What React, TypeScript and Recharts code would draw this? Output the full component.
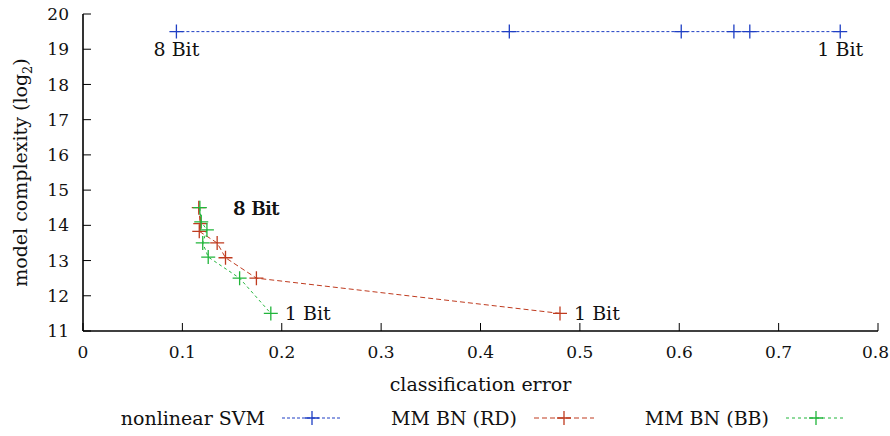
import React from "react";
import {
  ComposedChart,
  Scatter,
  XAxis,
  YAxis,
  Legend,
} from "recharts";

const xTicks = [0, 0.1, 0.2, 0.3, 0.4, 0.5, 0.6, 0.7, 0.8];
const yTicks = [11, 12, 13, 14, 15, 16, 17, 18, 19, 20];

const svmError = [0.094, 0.429, 0.602, 0.655, 0.671, 0.762];
const svmComplexity = [19.5, 19.5, 19.5, 19.5, 19.5, 19.5];
const svmTags = ["8 Bit", "", "", "", "", "1 Bit"];

const rdError = [0.1165, 0.118, 0.117, 0.135, 0.1434, 0.1745, 0.48];
const rdComplexity = [14.5, 14.05, 13.83, 13.5, 13.08, 12.5, 11.5];
const rdTags = ["8 Bit", "", "", "", "", "", "1 Bit"];

const bbError = [0.1176, 0.119, 0.1247, 0.1205, 0.126, 0.1576, 0.189];
const bbComplexity = [14.5, 14.1, 13.87, 13.5, 13.1, 12.5, 11.5];
const bbTags = ["8 Bit", "", "", "", "", "", "1 Bit"];

const FONT = "'DejaVu Serif', serif";
const TICK_LEN = 8;

type Pt = { err: number; cx: number; tag: string };

const zip = (xs: number[], ys: number[], tags: string[]): Pt[] =>
  xs.map((x, i) => ({ err: x, cx: ys[i], tag: tags[i] }));

const SERIES = [
  { name: "nonlinear SVM", color: "#1f3fc4", dash: "3 2", data: zip(svmError, svmComplexity, svmTags), labelPos: "below" },
  { name: "MM BN (RD)", color: "#bf3b1f", dash: "5 3", data: zip(rdError, rdComplexity, rdTags), labelPos: "right" },
  { name: "MM BN (BB)", color: "#21b53b", dash: "3 3", data: zip(bbError, bbComplexity, bbTags), labelPos: "right" },
];

function crossPath(cx: number, cy: number, r: number) {
  return `M${cx - r},${cy}H${cx + r}M${cx},${cy - r}V${cy + r}`;
}

function makeShape(color: string, labelPos: string) {
  return (props: any) => {
    const { cx, cy, payload } = props;
    const tag: string = payload?.tag ?? "";
    let label = null;
    if (tag) {
      if (labelPos === "below") {
        label = (
          <text x={cx} y={cy + 24} textAnchor="middle" fontFamily={FONT} fontSize={19} fill="#111">
            {tag}
          </text>
        );
      } else {
        const dx = tag === "8 Bit" ? 34 : 14;
        label = (
          <text x={cx + dx} y={cy} dy="0.36em" textAnchor="start" fontFamily={FONT} fontSize={19} fill="#111">
            {tag}
          </text>
        );
      }
    }
    return (
      <g>
        <path d={crossPath(cx, cy, 7)} stroke={color} strokeWidth={1.3} fill="none" />
        {label}
      </g>
    );
  };
}

const BottomTick = (props: any) => {
  const { x, y, payload, index } = props;
  const axisY = y - 15;
  const last = index === xTicks.length - 1;
  return (
    <g>
      <line x1={x} y1={axisY} x2={x} y2={axisY - TICK_LEN} stroke="#000" strokeWidth={1} />
      <text
        x={last ? x + 11 : x}
        y={y}
        dy="0.71em"
        textAnchor={last ? "end" : "middle"}
        fontFamily={FONT}
        fontSize={17}
        fill="#111"
      >
        {payload.value}
      </text>
    </g>
  );
};

const LeftTick = (props: any) => {
  const { x, y, payload } = props;
  const axisX = x + 14;
  return (
    <g>
      <line x1={axisX} y1={y} x2={axisX + TICK_LEN} y2={y} stroke="#000" strokeWidth={1} />
      <text x={x} y={y} dy="0.36em" textAnchor="end" fontFamily={FONT} fontSize={17} fill="#111">
        {payload.value}
      </text>
    </g>
  );
};

const TopTick = (props: any) => {
  const { x, y } = props;
  return <line x1={x} y1={y} x2={x} y2={y + TICK_LEN} stroke="#000" strokeWidth={1} />;
};

const RightTick = (props: any) => {
  const { x, y } = props;
  return <line x1={x} y1={y} x2={x - TICK_LEN} y2={y} stroke="#000" strokeWidth={1} />;
};

const XTitle = (props: any) => {
  const vb = props.viewBox;
  return (
    <text x={vb.x + vb.width / 2} y={vb.y + 60} textAnchor="middle" fontFamily={FONT} fontSize={19} fill="#111">
      classification error
    </text>
  );
};

const YTitle = (props: any) => {
  const vb = props.viewBox;
  const tx = 27;
  const ty = vb.y + vb.height / 2;
  return (
    <text
      x={tx}
      y={ty}
      transform={`rotate(-90, ${tx}, ${ty})`}
      textAnchor="middle"
      fontFamily={FONT}
      fontSize={19}
      fill="#111"
    >
      model complexity (log
      <tspan dy={5} fontSize={13}>2</tspan>
      <tspan dy={-5}>)</tspan>
    </text>
  );
};

const LegendContent = () => (
  <div
    style={{
      width: 890,
      height: 36,
      display: "flex",
      alignItems: "center",
      paddingLeft: 90,
      boxSizing: "border-box",
      fontFamily: FONT,
      fontSize: 19,
      color: "#111",
    }}
  >
    {SERIES.map((s) => (
      <div key={s.name} style={{ display: "flex", alignItems: "center", width: 252 }}>
        <span style={{ width: 175, textAlign: "right", whiteSpace: "nowrap" }}>{s.name}</span>
        <svg width={60} height={20} style={{ marginLeft: 17 }}>
          <line x1={0} y1={10} x2={60} y2={10} stroke={s.color} strokeDasharray={s.dash} strokeWidth={1} />
          <path d={crossPath(30, 10, 7)} stroke={s.color} strokeWidth={1.3} fill="none" />
        </svg>
      </div>
    ))}
  </div>
);

export default function App() {
  return (
    <div style={{ position: "absolute", left: 0, top: 0, width: 890, height: 436, background: "#fff" }}>
      <ComposedChart width={890} height={436} margin={{ top: 14, right: 12, bottom: 0, left: 0 }}>
        <XAxis
          xAxisId="bottom"
          dataKey="err"
          type="number"
          domain={[0, 0.8]}
          ticks={xTicks}
          allowDataOverflow
          height={69}
          tickSize={0}
          tickMargin={15}
          tickLine={false}
          tick={<BottomTick />}
          axisLine={{ stroke: "#000", strokeWidth: 1.6 }}
          label={<XTitle />}
        />
        <XAxis
          xAxisId="top"
          orientation="top"
          dataKey="err"
          type="number"
          domain={[0, 0.8]}
          ticks={xTicks.slice(1, -1)}
          height={0}
          tickSize={0}
          tickMargin={0}
          tickLine={false}
          tick={<TopTick />}
          axisLine={{ stroke: "#000", strokeWidth: 1.6 }}
        />
        <YAxis
          yAxisId="left"
          dataKey="cx"
          type="number"
          domain={[11, 20]}
          ticks={yTicks}
          allowDataOverflow
          width={83}
          tickSize={0}
          tickMargin={14}
          tickLine={false}
          tick={<LeftTick />}
          axisLine={{ stroke: "#000", strokeWidth: 1.6 }}
          label={<YTitle />}
        />
        <YAxis
          yAxisId="right"
          orientation="right"
          dataKey="cx"
          type="number"
          domain={[11, 20]}
          ticks={yTicks.slice(1, -1)}
          width={0}
          tickSize={0}
          tickMargin={0}
          tickLine={false}
          tick={<RightTick />}
          axisLine={{ stroke: "#000", strokeWidth: 1.6 }}
        />
        <Legend verticalAlign="bottom" wrapperStyle={{ left: 0, width: 890 }} content={<LegendContent />} />
        {SERIES.map((s) => (
          <Scatter
            key={s.name}
            name={s.name}
            data={s.data}
            xAxisId="bottom"
            yAxisId="left"
            dataKey="cx"
            line={{ stroke: s.color, strokeDasharray: s.dash, strokeWidth: 1 }}
            lineJointType="linear"
            shape={makeShape(s.color, s.labelPos)}
            isAnimationActive={false}
          />
        ))}
      </ComposedChart>
    </div>
  );
}
